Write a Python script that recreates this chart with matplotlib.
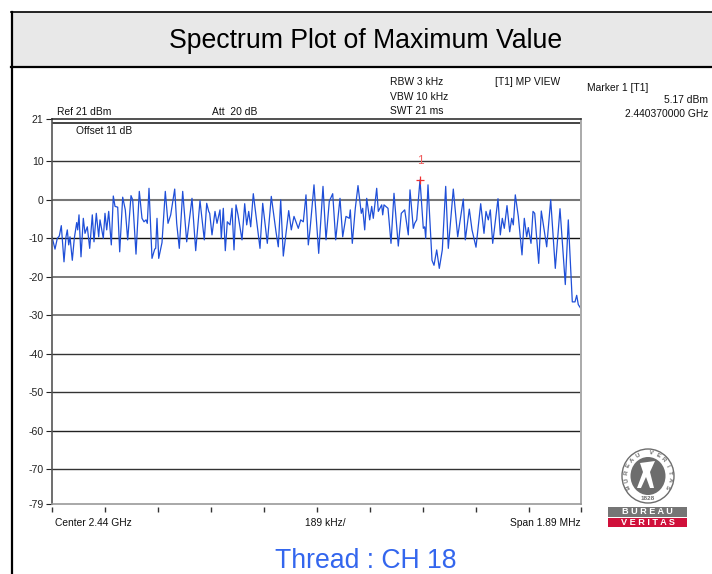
import matplotlib
matplotlib.use('Agg')
import numpy as np
import matplotlib.pyplot as plt
from matplotlib.patches import Ellipse, Rectangle, Polygon

plt.rcParams['font.family'] = ['Liberation Sans', 'DejaVu Sans']

# sweep position (0-529 across the 1.89 MHz span)
sweep = [0, 3, 5.3, 7.3, 9.3, 12, 14, 15.3, 16.7, 18, 20.3, 22.3, 24.7, 25.7, 27, 29, 31.3, 33, 35.3, 37.7,
         40.3, 42, 44.3, 46.7, 48, 51.3, 53, 54.7, 56.7, 59.3, 61.3, 63, 65.7, 67.7, 70.7, 73.3, 75.7, 79, 80.7, 84, 87.3,
         90, 92, 94, 95.3, 97, 100, 102.7, 103.7, 105, 106.7, 110, 113.3, 116, 118.7, 122.7, 124.7, 127.3, 130.7, 134.7,
         140, 143.7, 148, 152.3, 154.7, 156.7, 157.7, 160, 163, 165, 168, 169.3, 171.3, 173.3, 175.3,
         178, 180, 182, 184, 186, 190, 192.7, 194.7, 196.7, 198.7, 201.3, 208, 210.7, 215.3, 219.3, 224, 226.3, 228.7,
         231.3, 236.7, 239.3, 242, 246.3, 248.7, 251.3, 254, 256.3, 258, 262, 266.7,
         271, 274, 277.3, 280.7, 283.7, 288, 290.7, 294, 297.3, 298.3, 300.3, 303.3, 306, 309.3, 310.7, 312.7, 314.7,
         317.7, 319.7, 321.3, 324.7, 326.3, 329.7, 330.7, 332, 336, 339, 342, 346.3, 349.3, 352.7, 356.3,
         358, 361.3, 362.7, 364.7, 368, 371.3, 372.7, 373.7, 376, 380, 382, 384.7, 387.3, 390.3, 393.7, 396.3, 401.3,
         405.7, 411.3, 413.3, 417.3, 420, 424, 428.7, 432, 434, 436.3, 438.3, 440.7,
         446, 448.3, 450.3, 452.3, 455, 457.7, 459.7, 461.3, 463.3, 466.3, 470, 472.3, 474.7, 476.3, 479, 481, 482.7,
         486.7, 489.3, 494.7, 498.7, 503.3, 508, 513.3, 516.3, 520.3, 523, 524.7, 526.3, 529]

# level in dBm
level = [-9.6, -12.8, -10.0, -9.4, -6.7, -16.1, -9.6, -7.8, -11.7, -9.6, -15.7, -10.0, -5.9, -7.8, -3.9, -14.8, -4.8, -8.7, -7.0, -12.6,
         -3.9, -10.9, -3.5, -9.6, -5.2, -10.0, -3.5, -7.8, -3.0, -11.7, 1.0, -1.7, -1.9, -13.5, 0.7, -2.6, -10.4, 1.1, 0, -14.1, 2.2,
         -4.8, -5.7, -5.2, -6.1, 3.0, -15.2, -12.8, -12.6, -4.8, -15.2, -11.1, 2.2, -6.1, -3.9, 2.8, -6.1, -12.6, 2.2, -10.9,
         0.4, -13.2, -0.2, -10.4, -0.9, -3.0, -3.5, -9.1, -3.0, -6.1, -2.6, -10.0, -2.2, -13.2, -5.7,
         -6.5, -2.2, -13.0, -1.3, -3.9, -10.4, -1.0, -6.5, -3.0, -7.0, 1.6, -12.6, -0.9, -11.3, 0.9, -8.3, -12.2, 0,
         -14.6, -2.8, -7.8, -4.3, -7.4, -5.2, -5.7, 1.3, -11.7, -7.8, 3.9, -13.9,
         3.5, -10.4, -0.4, 1.6, -10.4, 0.4, -9.6, -4.3, -4.8, -2.6, -11.3, -2.2, 3.7, -3.5, -2.2, -7.8, 0.4,
         -5.2, -1.7, -4.8, 3.0, -3.0, -1.3, -3.9, -1.3, -2.2, -11.3, 1.7, -12.0, -3.5, -2.6, -9.1,
         2.6, -7.4, -6.1, -5.2, 5.17, -7.4, -7.0, -10.0, 3.9, -15.7, -17.0, -13.0, -17.8, -13.0, 3.5, -12.6, 2.8,
         -9.6, 0.2, -10.4, -2.4, -7.8, -12.3, -1.0, -8.7, -3.0, -5.2, -2.6, -11.3,
         0.3, -9.1, -4.8, -7.4, -1.5, -8.3, -4.8, -6.5, 1.3, -4.3, -14.3, -4.8, -9.6, -7.2, -11.3, -3.0, -3.5,
         -16.5, -2.9, -12.2, 0, -17.8, -2.3, -22.0, -5.2, -26.5, -26.5, -24.8, -27.2, -28.3]

marker_sweep = 368
marker_level = 5.17
y_ticks = [21, 10, 0, -10, -20, -30, -40, -50, -60, -70, -79]
grid_levels = [20, 10, 0, -10, -20, -30, -40, -50, -60, -70]
# the scaled screenshot makes some grid lines look softer than others
grid_colors = ['#111111', '#333333', '#777777', '#111111', '#555555', '#666666', '#333333', '#333333', '#222222', '#333333']
grid_widths = [1.1, 1.0, 1.5, 1.0, 1.1, 1.2, 1.0, 1.0, 1.0, 1.0]
x_divs = list(range(0, 530, 53))[:10] + [529]

W, H = 712, 574
fig = plt.figure(figsize=(W / 100, H / 100), dpi=100)

# page layer in pixel coordinates
bg = fig.add_axes([0, 0, 1, 1])
bg.set_xlim(0, W)
bg.set_ylim(H, 0)
bg.axis('off')
bg.add_patch(Rectangle((11, 12), W - 11, 55, fc='#e8e8e8', ec='none'))
bg.plot([11.5, 11.5], [12, H], color='black', lw=1.6)
bg.plot([11, W], [12, 12], color='black', lw=1.2)
bg.plot([11, W], [67, 67], color='black', lw=1.6)
bg.text(366, 41, 'Spectrum Plot of Maximum Value', ha='center', va='center', fontsize=19.2, color='black')
bg.text(366, 561.5, 'Thread : CH 18', ha='center', va='center', fontsize=19.2, color='#3366ee')

small = dict(fontsize=7.4, color='#111111', va='center')
bg.text(57, 112, 'Ref 21 dBm', **small)
bg.text(212, 112, 'Att  20 dB', **small)
bg.text(390, 82, 'RBW 3 kHz', **small)
bg.text(390, 97, 'VBW 10 kHz', **small)
bg.text(390, 111, 'SWT 21 ms', **small)
bg.text(495, 82, '[T1] MP VIEW', **small)
bg.text(587, 88, 'Marker 1 [T1]', **small)
bg.text(708, 100, '5.17 dBm', ha='right', **small)
bg.text(708, 114, '2.440370000 GHz', ha='right', **small)
bg.text(55, 523, 'Center 2.44 GHz', **small)
bg.text(325, 523, '189 kHz/', ha='center', **small)
bg.text(581, 523, 'Span 1.89 MHz', ha='right', **small)

# logo
grey = '#6d6d6d'
bg.add_patch(Ellipse((648, 476), 52, 54, fc='white', ec=grey, lw=1))
bg.add_patch(Ellipse((648, 476), 35, 38, fc=grey, ec='none'))
word = 'BUREAU VERITAS'
for i, ch in enumerate(word):
    a = np.radians(-118 + i * 236 / (len(word) - 1))
    bg.text(648 + 22 * np.sin(a), 476 - 23 * np.cos(a), ch, fontsize=4.5, color=grey, ha='center', va='center',
            rotation=-np.degrees(a), fontweight='bold')
bg.text(648, 498, '1828', fontsize=4.5, color=grey, ha='center', va='center', fontweight='bold')
bg.add_patch(Polygon([(640, 463), (655, 461), (650, 472), (654, 488), (650, 488), (646, 477), (641, 488), (637, 488),
                      (643, 472)], fc='white', ec='none'))
bg.add_patch(Rectangle((608, 507), 79, 10, fc='#757575', ec='none'))
bg.add_patch(Rectangle((608, 518), 79, 9, fc='#d0103a', ec='none'))
bg.text(647.5, 512, 'B U R E A U', fontsize=6.6, color='white', ha='center', va='center', fontweight='bold')
bg.text(647.5, 522.7, 'V E R I T A S', fontsize=6.6, color='white', ha='center', va='center', fontweight='bold')

# spectrum axes: 52..581 px wide, 119..504 px tall
ax = fig.add_axes([52 / W, 1 - 504 / H, 529 / W, 385 / H])
ax.patch.set_alpha(0)
ax.set_xlim(0, 529)
ax.set_ylim(-79, 21)
for v, c, w in zip(grid_levels, grid_colors, grid_widths):
    ax.axhline(v, color=c, lw=w, zorder=1)
ax.plot(sweep, level, color='#1f4fd8', lw=0.9, zorder=2)
ax.plot(marker_sweep, marker_level, '+', color='#f03030', ms=6, mew=0.9, zorder=3)
ax.text(marker_sweep, 10.2, '1', color='#f06060', fontsize=8.5, ha='center', va='center')
ax.text(24, 18, 'Offset 11 dB', fontsize=7.4, color='#111111', va='center')

ax.set_yticks(y_ticks)
ax.set_yticklabels([str(t) for t in y_ticks])
ax.set_xticks([])
ax.tick_params(axis='y', length=4, width=0.8, labelsize=7.6, pad=2, colors='#222222')
ax.spines['top'].set_color('#222222')
ax.spines['top'].set_linewidth(1.1)
ax.spines['left'].set_color('#555555')
ax.spines['left'].set_linewidth(1.2)
ax.spines['right'].set_color('#aaaaaa')
ax.spines['right'].set_linewidth(1.4)
ax.spines['bottom'].set_color('#999999')
ax.spines['bottom'].set_linewidth(1.2)

# division ticks sit just below the frame
trans = ax.get_xaxis_transform()
ax.vlines(x_divs, -0.008, -0.022, transform=trans, color='#333333', lw=1.0, clip_on=False)

fig.savefig('out.png', dpi=100)
